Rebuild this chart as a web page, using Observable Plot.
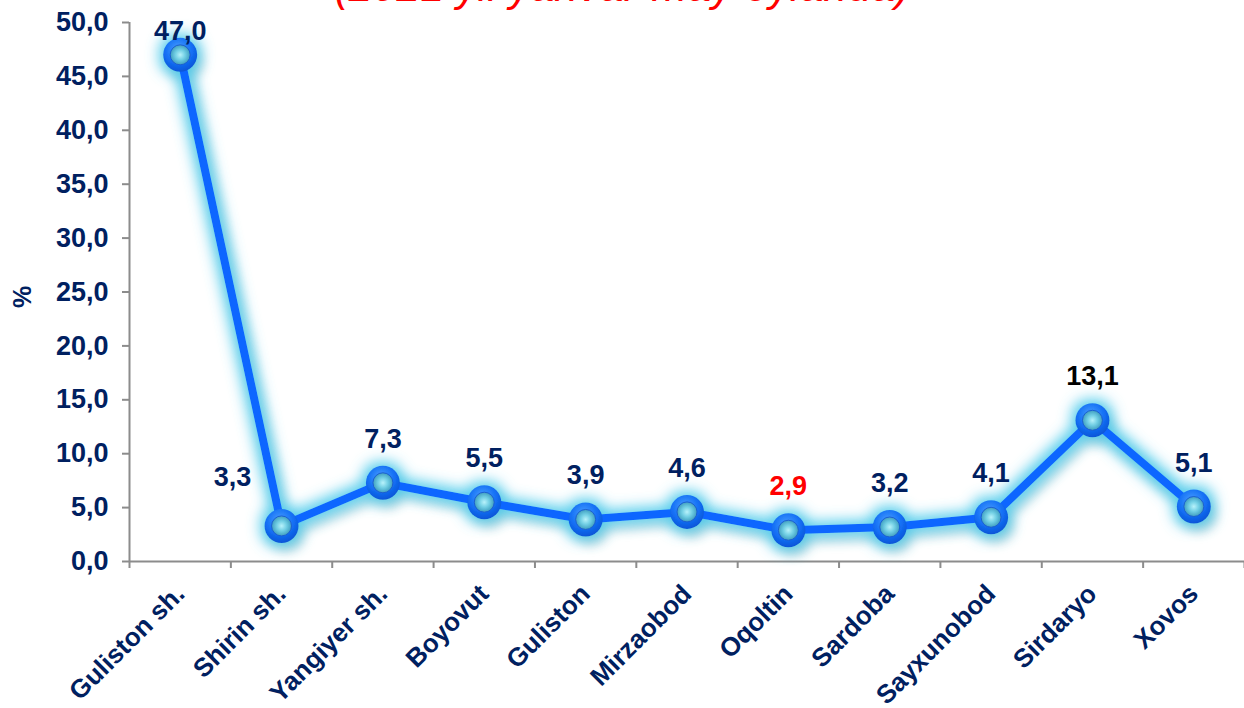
<!DOCTYPE html>
<html>
<head>
<meta charset="utf-8">
<script src="https://cdn.jsdelivr.net/npm/d3@7"></script>
<script src="https://cdn.jsdelivr.net/npm/@observablehq/plot@0.6"></script>
<style>
  html, body { margin: 0; padding: 0; background: #fff; overflow: hidden; }
  body { width: 1244px; height: 708px; position: relative; font-family: "Liberation Sans", Arial, sans-serif; }
  #title { position: absolute; left: 0; width: 1244px; top: -35px; text-align: center;
           font: italic 43px/43px "Liberation Sans", Arial, sans-serif; color: #ff0000; white-space: nowrap; }
  #ylab { position: absolute; left: 22px; top: 297px; transform: translate(-50%, -50%) rotate(-90deg);
          font: bold 25px "Liberation Sans", Arial, sans-serif; color: #002060; }
  #chart { position: absolute; left: 0; top: 0; }
  svg g[aria-label="y-axis tick"], svg g[aria-label="x-axis tick"] { stroke: #8c8c8c; stroke-width: 2px; }
  svg g[aria-label="y-axis tick label"], svg g[aria-label="x-axis tick label"] { fill: #002060; }
</style>
</head>
<body>
<div id="title">(2021 yil yanvar-may oylarida)</div>
<div id="chart"></div>
<div id="ylab">%</div>
<script>
// ---- data ----
const categories = ["Guliston sh.", "Shirin sh.", "Yangiyer sh.", "Boyovut", "Guliston", "Mirzaobod", "Oqoltin", "Sardoba", "Sayxunobod", "Sirdaryo", "Xovos"];
const values = [47.0, 3.3, 7.3, 5.5, 3.9, 4.6, 2.9, 3.2, 4.1, 13.1, 5.1];
const yTicks = [0, 5, 10, 15, 20, 25, 30, 35, 40, 45, 50];

// ---- styles ----
const navy = "#002060";
const labelColor = {"Oqoltin": "#ff0000", "Sirdaryo": "#000000"};
const fmt = v => v.toFixed(1).replace(".", ",");
const FS = 27;

const data = categories.map((c, i) => ({cat: c, i, v: values[i]}));
const boundaries = d3.range(-0.5, categories.length, 1);

const plot = Plot.plot({
  width: 1244,
  height: 708,
  marginLeft: 129,
  marginRight: 0,
  marginTop: 22,
  marginBottom: 147,
  style: {fontFamily: "'Liberation Sans', Arial, sans-serif", fontWeight: "bold", fontSize: FS + "px", color: navy, background: "transparent", overflow: "visible"},
  x: {type: "linear", domain: [-0.5, categories.length - 0.5], axis: null},
  y: {domain: [0, 50], axis: null},
  marks: [
    Plot.ruleY([0], {stroke: "#8c8c8c", strokeWidth: 2}),
    Plot.ruleX([-0.5], {stroke: "#8c8c8c", strokeWidth: 2}),
    Plot.axisY(yTicks, {tickFormat: fmt, tickSize: 7, tickPadding: 14, label: null, fontSize: FS}),
    Plot.axisX(boundaries, {tickFormat: () => "", tickSize: 7, label: null}),
    Plot.axisX(d3.range(categories.length), {tickFormat: i => categories[i], tickSize: 0, tickRotate: -45, tickPadding: 28, label: null, fontSize: FS - 1}),
    Plot.line(data, {x: "i", y: "v", stroke: "#0a66ff", strokeWidth: 8, strokeLinejoin: "round"}),
    Plot.dot(data, {x: "i", y: "v", r: 17, fill: "url(#outerGrad)", stroke: "none"}),
    Plot.dot(data, {x: "i", y: "v", r: 10, fill: "url(#innerGrad)", stroke: "#1c5fd0", strokeWidth: 1}),
    Plot.text(data.filter(d => d.i !== 0 && d.i !== 1), {x: "i", y: "v", text: d => fmt(d.v), fill: d => labelColor[d.cat] || navy, lineAnchor: "bottom", dy: -35, fontSize: FS, fontWeight: "bold"}),
    Plot.text(data.filter(d => d.i === 0), {x: "i", y: "v", text: d => fmt(d.v), fill: navy, lineAnchor: "bottom", dy: -15, fontSize: FS, fontWeight: "bold"}),
    Plot.text(data.filter(d => d.i === 1), {x: "i", y: "v", text: d => fmt(d.v), fill: navy, lineAnchor: "bottom", dx: -49, dy: -40, fontSize: FS, fontWeight: "bold"})
  ]
});

const svg = d3.select(plot);
const defs = svg.insert("defs", ":first-child");
defs.html(`
  <filter id="glow" filterUnits="userSpaceOnUse" x="0" y="0" width="1244" height="708">
    <feGaussianBlur in="SourceAlpha" stdDeviation="6" result="b1"/>
    <feOffset in="b1" dx="5" dy="8" result="ob"/>
    <feFlood flood-color="#000" flood-opacity="0.28" result="fs"/>
    <feComposite in="fs" in2="ob" operator="in" result="shadow"/>
    <feMorphology in="SourceAlpha" operator="dilate" radius="4" result="d"/>
    <feGaussianBlur in="d" stdDeviation="7" result="gb"/>
    <feFlood flood-color="#44c8ea" flood-opacity="0.9" result="fc"/>
    <feComposite in="fc" in2="gb" operator="in" result="glow"/>
    <feMerge><feMergeNode in="shadow"/><feMergeNode in="glow"/><feMergeNode in="SourceGraphic"/></feMerge>
  </filter>
  <radialGradient id="outerGrad" cx="45%" cy="35%" r="65%">
    <stop offset="0%" stop-color="#4aa0ff"/>
    <stop offset="60%" stop-color="#1470f5"/>
    <stop offset="100%" stop-color="#0a55d8"/>
  </radialGradient>
  <radialGradient id="innerGrad" cx="50%" cy="50%" r="55%">
    <stop offset="0%" stop-color="#b8f2fb"/>
    <stop offset="45%" stop-color="#72cfe4"/>
    <stop offset="100%" stop-color="#3594b8"/>
  </radialGradient>
`);
// group line + outer dots under one glow filter
const gLine = svg.select('g[aria-label="line"]').node();
const dotGroups = svg.selectAll('g[aria-label="dot"]').nodes();
const wrap = document.createElementNS("http://www.w3.org/2000/svg", "g");
wrap.setAttribute("filter", "url(#glow)");
const anchor = gLine || dotGroups[0];
if (anchor) anchor.parentNode.insertBefore(wrap, anchor);
if (gLine) wrap.appendChild(gLine);
if (dotGroups[0]) wrap.appendChild(dotGroups[0]);
// keep text on top
svg.selectAll('g[aria-label="text"]').nodes().forEach(n => plot.appendChild(n));

document.getElementById("chart").appendChild(plot);
</script>
</body>
</html>
